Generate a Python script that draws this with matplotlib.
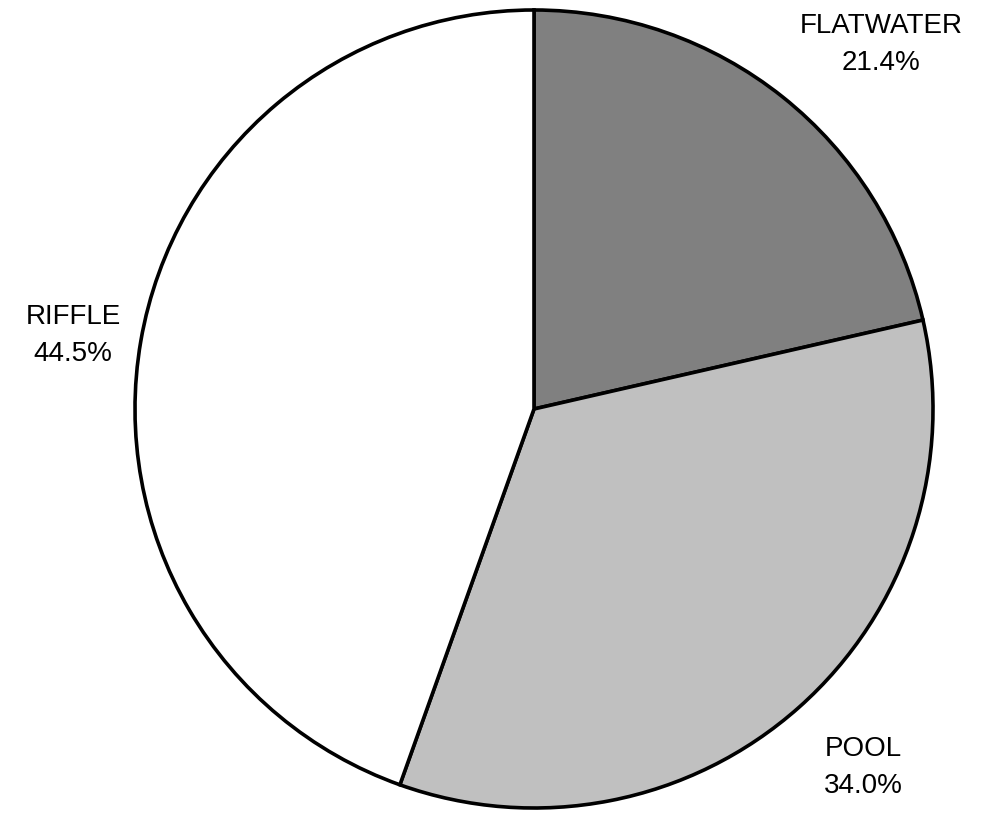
import numpy as np
import matplotlib.pyplot as plt

plt.rcParams['font.family'] = ['Liberation Sans', 'DejaVu Sans']

# --- Data
categories = ["FLATWATER", "POOL", "RIFFLE"]
shares = [21.4, 34.0, 44.5]
colors = ["#808080", "#c0c0c0", "#ffffff"]
label_dist = [1.262, 1.22, 1.17]
label_shift = [-5.0, 1.0, 0.8]   # degrees, nudges label off the wedge midline

fig = plt.figure(figsize=(9.92, 8.15), dpi=100)
ax = fig.add_axes([133 / 992, 5 / 815, 802 / 992, 802 / 815])

wedges, _ = ax.pie(shares, colors=colors, startangle=90, counterclock=False,
                   radius=1.0,
                   wedgeprops=dict(edgecolor="black", linewidth=2.6))

# --- Labels outside the wedges
for w, name, val, d, s in zip(wedges, categories, shares, label_dist, label_shift):
    mid = np.deg2rad((w.theta1 + w.theta2) / 2 + s)
    x, y = d * np.cos(mid), d * np.sin(mid)
    ax.text(x, y, f"{name}\n{val:.1f}%", ha="center", va="center",
            fontsize=20, linespacing=1.55)

ax.set_xlim(-1.005, 1.005)
ax.set_ylim(-1.005, 1.005)
ax.set_aspect("equal")
ax.axis("off")

fig.savefig("out.png", dpi=100)
